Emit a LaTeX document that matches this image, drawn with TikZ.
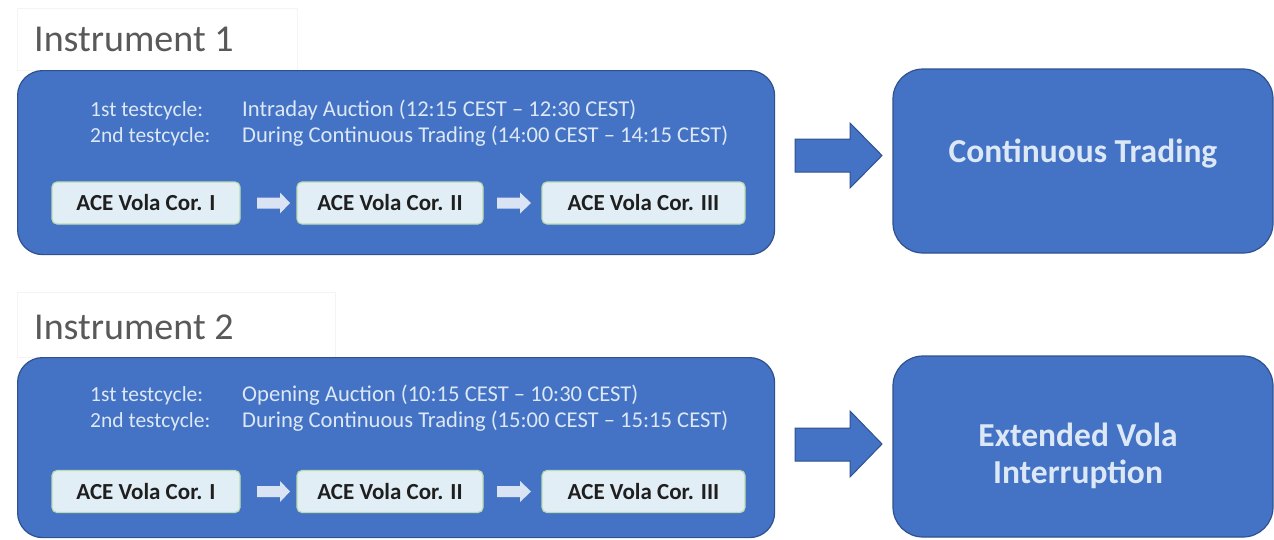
\documentclass[tikz,border=0pt]{standalone}
\usepackage{fontspec}
\setmainfont{Carlito}
\definecolor{boxblue}{HTML}{4472C4}
\definecolor{boxedge}{HTML}{2F528F}
\definecolor{lighttext}{HTML}{DCE8F6}
\definecolor{titlegray}{HTML}{595959}
\definecolor{smallfill}{HTML}{E2EEF6}
\definecolor{smalledge}{HTML}{B9DDB0}
\definecolor{smallarrow}{HTML}{DAE3F3}
\definecolor{titleedge}{HTML}{F4F4F4}
\begin{document}
\begin{tikzpicture}[x=1pt,y=-1pt,
  titlebox/.style={draw=titleedge, fill=white, line width=0.8pt, inner sep=0pt, anchor=north west},
  titletext/.style={text=titlegray, font=\fontsize{38}{44}\selectfont, anchor=base west, inner sep=0pt},
  bigbox/.style={draw=boxedge, fill=boxblue, line width=1.2pt, rounded corners=25pt, inner sep=0pt, anchor=north west},
  resultbox/.style={draw=boxedge, fill=boxblue, line width=1.2pt, rounded corners=30pt, inner sep=0pt,
    minimum width=380pt, minimum height=184pt},
  resulttext/.style={text=lighttext, font=\fontsize{33.5}{37}\selectfont\bfseries, anchor=base, inner sep=0pt},
  cycletext/.style={text=lighttext, font=\fontsize{21.5}{25}\selectfont, anchor=base west, inner sep=0pt},
  cycletextb/.style={text=lighttext, font=\fontsize{22.6}{25}\selectfont, anchor=base west, inner sep=0pt},
  corbox/.style={draw=smalledge, fill=smallfill, line width=1.2pt, rounded corners=5pt, inner sep=0pt,
    minimum height=42pt, text=black!88, font=\fontsize{23}{27}\selectfont\bfseries},
  smallarr/.style={fill=smallarrow, draw=none},
  bigarr/.style={fill=boxblue, draw=boxedge, line width=1pt, line join=miter}
]
\useasboundingbox (0,0) rectangle (1274,539);
\fill[white] (0,0) rectangle (1274,539);

% ---------- Instrument 1 ----------
\node[titlebox, minimum width=280pt, minimum height=62pt] (t1) at (17,8) {};
\node[titletext] (t1txt) at (34,51) {Instrument 1};
\node[bigbox, minimum width=757pt, minimum height=184pt] (b1) at (17,70) {};
\node[cycletext] (c11) at (90,116) {1st testcycle:};
\node[cycletext] (c12) at (90,142) {2nd testcycle:};
\node[cycletextb] (d11) at (242,116) {Intraday Auction (12:15 CEST – 12:30 CEST)};
\node[cycletextb] (d12) at (242,142) {During Continuous Trading (14:00 CEST – 14:15 CEST)};
\node[corbox, minimum width=188pt] (a11) at (146,203) {ACE Vola Cor. I};
\node[corbox, minimum width=186pt] (a12) at (390,203) {ACE Vola Cor. II};
\node[corbox, minimum width=203pt] (a13) at (643.5,203) {ACE Vola Cor. III};
\fill[smallarr] (257,197.5) -- (280,197.5) -- (280,192.5) -- (290,203) -- (280,213.5) -- (280,208.5) -- (257,208.5) -- cycle;
\fill[smallarr] (497,197.5) -- (520,197.5) -- (520,192.5) -- (531,203) -- (520,213.5) -- (520,208.5) -- (497,208.5) -- cycle;
\draw[bigarr] (795,139) -- (850,139) -- (850,123) -- (882,155.5) -- (850,188) -- (850,172) -- (795,172) -- cycle;
\node[resultbox] (r1) at (1083,161) {};
\node[resulttext] (r1txt) at (1083,162) {Continuous Trading};

% ---------- Instrument 2 ----------
\node[titlebox, minimum width=318pt, minimum height=65pt] (t2) at (17,292) {};
\node[titletext] (t2txt) at (34,339) {Instrument 2};
\node[bigbox, minimum width=757pt, minimum height=180pt] (b2) at (17,357) {};
\node[cycletext] (c21) at (90,401) {1st testcycle:};
\node[cycletext] (c22) at (90,427) {2nd testcycle:};
\node[cycletextb] (d21) at (242,401) {Opening Auction (10:15 CEST – 10:30 CEST)};
\node[cycletextb] (d22) at (242,427) {During Continuous Trading (15:00 CEST – 15:15 CEST)};
\node[corbox, minimum width=188pt] (a21) at (146,491.5) {ACE Vola Cor. I};
\node[corbox, minimum width=186pt] (a22) at (390,491.5) {ACE Vola Cor. II};
\node[corbox, minimum width=203pt] (a23) at (643.5,491.5) {ACE Vola Cor. III};
\fill[smallarr] (257,486) -- (280,486) -- (280,481) -- (290,491.5) -- (280,502) -- (280,497) -- (257,497) -- cycle;
\fill[smallarr] (497,486) -- (520,486) -- (520,481) -- (531,491.5) -- (520,502) -- (520,497) -- (497,497) -- cycle;
\draw[bigarr] (795,428) -- (850,428) -- (850,411) -- (882,444) -- (850,477) -- (850,461) -- (795,461) -- cycle;
\node[resultbox, minimum height=181pt] (r2) at (1083,446.5) {};
\node[resulttext] (r2txta) at (1078,446) {Extended Vola};
\node[resulttext] (r2txtb) at (1078,483) {Interruption};
\end{tikzpicture}
\end{document}
